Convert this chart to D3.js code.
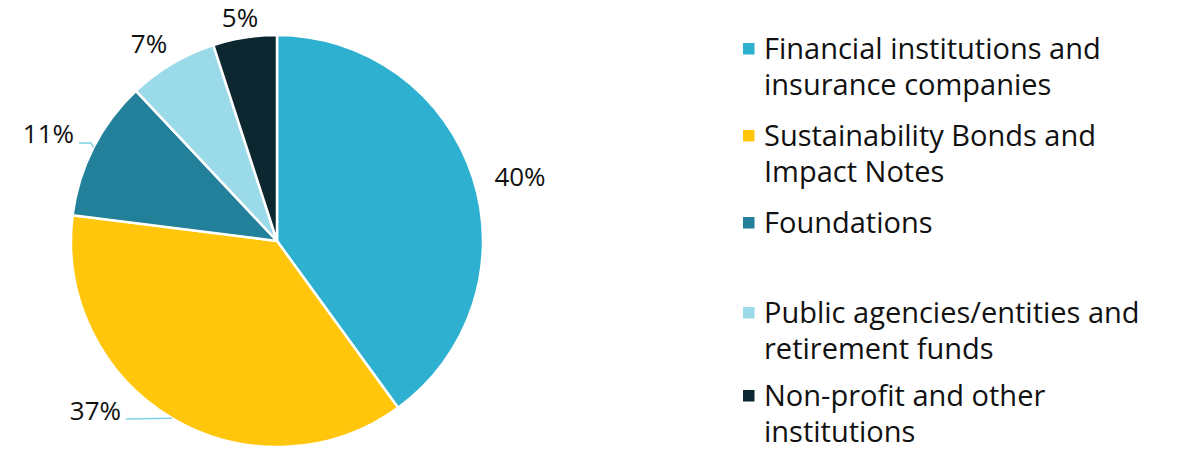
<!DOCTYPE html>
<html>
<head>
<meta charset="utf-8">
<script src="https://cdn.jsdelivr.net/npm/d3@7"></script>
<style>
  body { margin: 0; background: #fff; }
  text { font-family: "Open Sans", sans-serif; fill: #111; }
</style>
</head>
<body>
<div id="chart"></div>
<script>
// data
const categories = [
  "Financial institutions and insurance companies",
  "Sustainability Bonds and Impact Notes",
  "Foundations",
  "Public agencies/entities and retirement funds",
  "Non-profit and other institutions"
];
const shares = [40, 37, 11, 7, 5];
const colours = ["#2eb0d0", "#ffc60b", "#23809a", "#9adae9", "#0d2730"];
// legend lines, split as in the picture
const legendLines = [
  ["Financial institutions and", "insurance companies"],
  ["Sustainability Bonds and", "Impact Notes"],
  ["Foundations"],
  ["Public agencies/entities and", "retirement funds"],
  ["Non-profit and other", "institutions"]
];

const W = 1178, H = 451;
const cx = 277, cy = 241, r = 206;

const svg = d3.select("#chart").append("svg")
  .attr("width", W)
  .attr("height", H);

const pie = d3.pie().sort(null).value(d => d)(shares);
const arc = d3.arc().innerRadius(0).outerRadius(r);

const g = svg.append("g").attr("transform", "translate(" + cx + "," + cy + ")");

g.selectAll("path.slice").data(pie).enter().append("path")
  .attr("class", "slice")
  .attr("d", arc)
  .attr("fill", (d, i) => colours[i])
  .attr("stroke", "#fff")
  .attr("stroke-width", 2.5)
  .attr("stroke-linejoin", "round");

// label placement, relative to pie centre (layout only)
const labelLayout = [
  { x: 243, y: -55, anchor: "middle" },                         // 40%
  { x: -156, y: 179, anchor: "end", leader: [[-151, 178]] },    // 37%
  { x: -203, y: -98, anchor: "end", leader: [[-186, -98], [-198, -98]] }, // 11%
  { x: -128, y: -188, anchor: "middle" },                       // 7%
  { x: -37, y: -214, anchor: "middle" }                         // 5%
];

pie.forEach((d, i) => {
  const L = labelLayout[i];
  if (L.leader) {
    const mid = (d.startAngle + d.endAngle) / 2;
    const p0 = [Math.sin(mid) * r, -Math.cos(mid) * r];
    const pts = [p0].concat(L.leader);
    g.append("path")
      .attr("d", d3.line()(pts))
      .attr("fill", "none")
      .attr("stroke", "#7fd0e2")
      .attr("stroke-width", 1.5);
  }
  g.append("text")
    .attr("x", L.x)
    .attr("y", L.y)
    .attr("text-anchor", L.anchor)
    .style("font-size", "26px")
    .text(shares[i] + "%");
});

// legend
const legendY = [59, 146, 233, 323, 406];
const lineH = 36;
const lg = svg.append("g");
categories.forEach((c, i) => {
  const y0 = legendY[i];
  lg.append("rect")
    .attr("x", 743)
    .attr("y", y0 - 16)
    .attr("width", 11.5)
    .attr("height", 11.5)
    .attr("fill", colours[i]);
  legendLines[i].forEach((t, j) => {
    lg.append("text")
      .attr("x", 764)
      .attr("y", y0 + j * lineH)
      .style("font-size", "29px")
      .text(t);
  });
});
</script>
</body>
</html>
